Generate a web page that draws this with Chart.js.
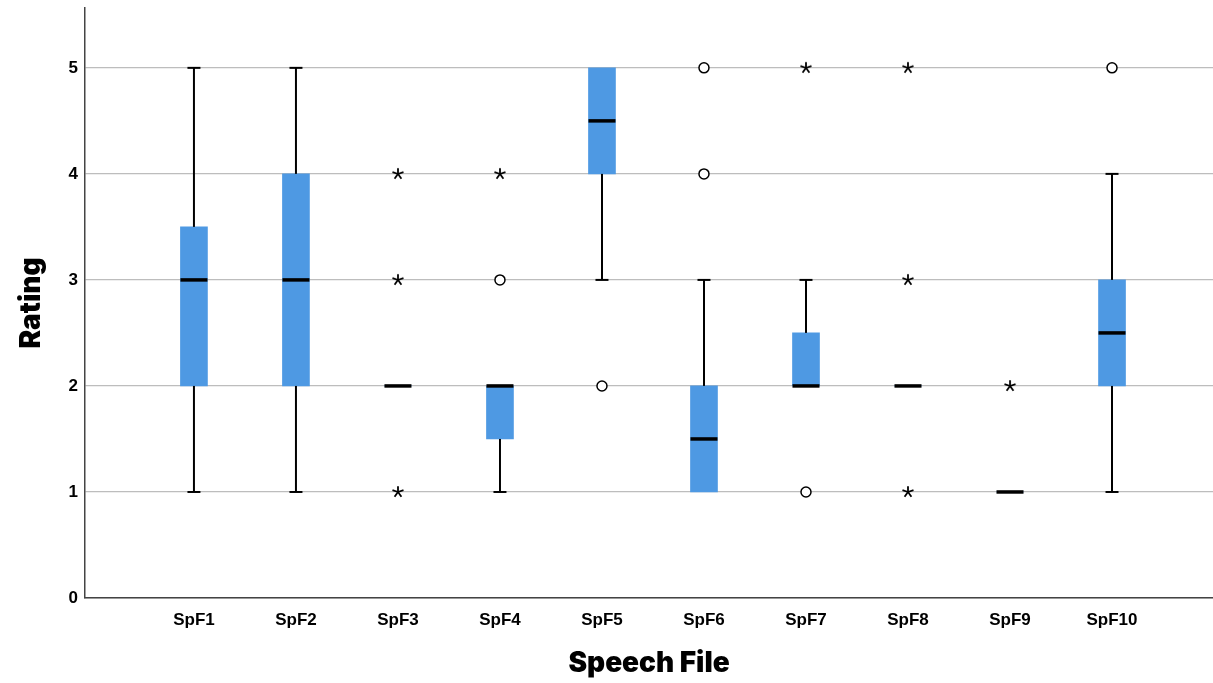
<!DOCTYPE html>
<html>
<head>
<meta charset="utf-8">
<script src="https://cdn.jsdelivr.net/npm/chart.js@4.4.1/dist/chart.umd.min.js"></script>
<style>
html,body{margin:0;padding:0;background:#ffffff;overflow:hidden;}
#wrap{width:1213px;height:683px;position:relative;overflow:hidden;}
#c{display:block;}
</style>
</head>
<body>
<div id="wrap"><canvas id="c"></canvas></div>
<script>
// ---- data ----
const categories = ['SpF1','SpF2','SpF3','SpF4','SpF5','SpF6','SpF7','SpF8','SpF9','SpF10'];
const q1Values      = [2,   2, 2, 1.5, 4,   1,   2,   2, 1, 2];
const q3Values      = [3.5, 4, 2, 2,   5,   2,   2.5, 2, 1, 3];
const medianValues  = [3,   3, 2, 2,   4.5, 1.5, 2,   2, 1, 2.5];
const whiskerLow    = [1,   1, 2, 1,   3,   1,   2,   2, 1, 1];
const whiskerHigh   = [5,   5, 2, 2,   5,   3,   3,   2, 1, 4];
// outliers (circles) : category number and value
const circleCats    = [4, 5, 6, 6, 7, 10];
const circleVals    = [3, 2, 5, 4, 1, 5];
// extreme values (asterisks)
const starCats      = [3, 3, 3, 4, 7, 8, 8, 8, 9];
const starVals      = [4, 3, 1, 4, 5, 5, 3, 1, 2];
const yTickValues   = [0, 1, 2, 3, 4, 5];
const xTitle = 'Speech File';
const yTitle = 'Rating';

// ---- asterisk marker ----
function makeStar(){
  const s = 16, c = document.createElement('canvas');
  c.width = s; c.height = s;
  const g = c.getContext('2d');
  g.strokeStyle = '#000'; g.lineWidth = 1.8; g.lineCap = 'butt';
  const cx = s/2, cy = s/2, r = 5.8;
  for (let k = 0; k < 5; k++){
    const a = -Math.PI/2 + k*2*Math.PI/5;
    g.beginPath(); g.moveTo(cx, cy); g.lineTo(cx + r*Math.cos(a), cy + r*Math.sin(a)); g.stroke();
  }
  return c;
}
const starImg = makeStar();

// ---- whiskers + medians plugin (uses chart scales) ----
const boxParts = {
  id: 'boxParts',
  afterDatasetsDraw(chart){
    const {ctx, scales:{x, y}} = chart;
    const meta = chart.getDatasetMeta(0);
    ctx.save();
    categories.forEach((c, i) => {
      const bar = meta.data[i];
      const px = x.getPixelForValue(i + 1);
      const bw = bar ? bar.width : 27;
      const capW = 13;
      ctx.strokeStyle = '#000';
      ctx.lineCap = 'butt';
      ctx.lineWidth = 2;
      if (whiskerHigh[i] > q3Values[i]){
        const y0 = y.getPixelForValue(q3Values[i]), y1 = y.getPixelForValue(whiskerHigh[i]);
        ctx.beginPath(); ctx.moveTo(px, y0); ctx.lineTo(px, y1); ctx.stroke();
        ctx.beginPath(); ctx.moveTo(px - capW/2, y1); ctx.lineTo(px + capW/2, y1); ctx.stroke();
      }
      if (whiskerLow[i] < q1Values[i]){
        const y0 = y.getPixelForValue(q1Values[i]), y1 = y.getPixelForValue(whiskerLow[i]);
        ctx.beginPath(); ctx.moveTo(px, y0); ctx.lineTo(px, y1); ctx.stroke();
        ctx.beginPath(); ctx.moveTo(px - capW/2, y1); ctx.lineTo(px + capW/2, y1); ctx.stroke();
      }
      const ym = y.getPixelForValue(medianValues[i]);
      ctx.lineWidth = 3.5;
      ctx.beginPath(); ctx.moveTo(px - bw/2, ym); ctx.lineTo(px + bw/2, ym); ctx.stroke();
    });
    ctx.restore();
  }
};

const boxData = categories.map((c, i) => ({x: i + 1, y: [q1Values[i], q3Values[i]]}));
const circleData = circleCats.map((c, i) => ({x: c, y: circleVals[i]}));
const starData = starCats.map((c, i) => ({x: c, y: starVals[i]}));

new Chart(document.getElementById('c'), {
  type: 'bar',
  data: {
    datasets: [
      {
        type: 'bar',
        label: 'box',
        data: boxData,
        backgroundColor: '#4e99e3',
        borderWidth: 0,
        barThickness: 27,
        order: 2
      },
      {
        type: 'scatter',
        label: 'outliers',
        data: circleData,
        pointStyle: 'circle',
        pointRadius: 5,
        pointBackgroundColor: '#ffffff',
        pointBorderColor: '#000000',
        pointBorderWidth: 1.5,
        order: 1
      },
      {
        type: 'scatter',
        label: 'extremes',
        data: starData,
        pointStyle: starImg,
        pointRadius: 6,
        order: 1
      }
    ]
  },
  options: {
    responsive: true,
    maintainAspectRatio: false,
    animation: false,
    events: [],
    layout: {autoPadding: false, padding: {top: 7, right: 0, bottom: 0, left: 15}},
    plugins: {legend: {display: false}, tooltip: {enabled: false}, title: {display: false}},
    scales: {
      x: {
        type: 'linear',
        min: -0.0675,
        max: 10.99,
        offset: false,
        afterBuildTicks: (s) => { s.ticks = categories.map((c, i) => ({value: i + 1})); },
        grid: {drawOnChartArea: false, drawTicks: false},
        border: {display: true, color: '#444444', width: 1.5},
        ticks: {
          autoSkip: false,
          maxRotation: 0,
          padding: 12,
          color: '#000',
          font: {family: '"Liberation Sans", Arial, sans-serif', size: 17, weight: 'bold'},
          callback: (v) => categories[v - 1]
        },
        title: {
          display: true,
          text: xTitle,
          color: '#000',
          font: {family: 'Inter, "Noto Sans", sans-serif', size: 28, weight: '900'},
          padding: {top: 4, bottom: 3}
        }
      },
      y: {
        type: 'linear',
        min: 0,
        max: 5.566,
        afterBuildTicks: (s) => { s.ticks = yTickValues.map(v => ({value: v})); },
        grid: {color: '#bdbdbd', lineWidth: 1.2, drawTicks: false},
        border: {display: true, color: '#444444', width: 1.5},
        ticks: {
          padding: 7,
          color: '#000',
          font: {family: '"Liberation Sans", Arial, sans-serif', size: 17, weight: 'bold', lineHeight: 0.1}
        },
        title: {
          display: true,
          text: yTitle,
          color: '#000',
          font: {family: 'Inter, "Noto Sans", sans-serif', size: 28, weight: '900'},
          padding: {top: 0, bottom: 13}
        }
      }
    }
  },
  plugins: [boxParts]
});
</script>
</body>
</html>
